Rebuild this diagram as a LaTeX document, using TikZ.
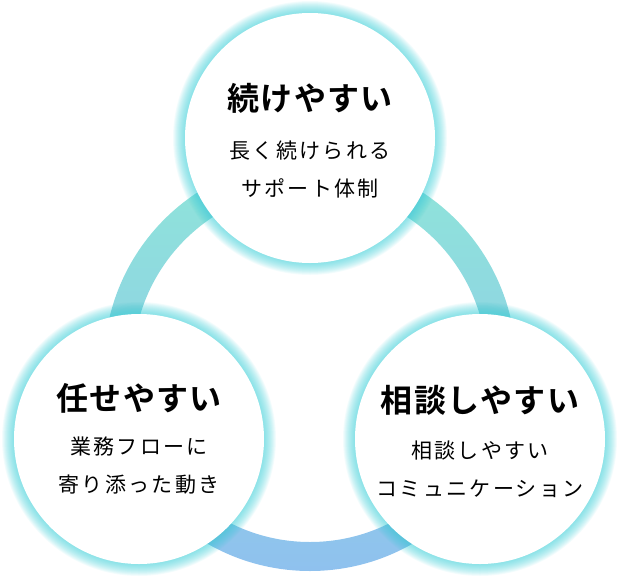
\documentclass[tikz,border=0pt]{standalone}
\usepackage{fontspec}
\setmainfont{Noto Sans CJK JP}
\newfontfamily\titlefont{Noto Sans CJK JP Bold}[LetterSpace=4]
\newfontfamily\subfont{Noto Sans CJK JP}[LetterSpace=11]
\usetikzlibrary{calc}
\definecolor{ringtop}{HTML}{8FE5D9}
\definecolor{ringmid}{HTML}{90DCE6}
\definecolor{ringbot}{HTML}{8FC1EE}
\definecolor{glow}{HTML}{3FCFD8}
\tikzset{
  bubble/.style={circle, fill=white, minimum size=250pt, inner sep=0pt},
  headline/.style={font=\titlefont\fontsize{32}{32}\selectfont},
  subline/.style={font=\subfont\fontsize{21}{38}\selectfont, align=center},
}

\begin{document}
\begin{tikzpicture}[x=1pt,y=-1pt]
  \useasboundingbox (0,0) rectangle (619,579);
  \coordinate (hub) at (310,365);
  % ring behind the circles
  \shade[even odd rule, top color=ringtop, middle color=ringmid, bottom color=ringbot]
    (hub) circle (206pt) (hub) circle (177pt);

  % glow
  \foreach \c in {(310,138),(139,439),(480,439)}
    \foreach \w in {1.5,3,...,24}
      \draw[glow, opacity=.055, line width=\w pt] \c circle (125pt);

  \node[bubble] (tsuzuke) at (310,138) {};
  \node[bubble] (makase) at (139,439) {};
  \node[bubble] (soudan) at (480,439) {};

  \node[headline] (tsuzuke-head) at ($(tsuzuke)+(0,-40)$) {続けやすい};
  \node[subline] (tsuzuke-sub) at ($(tsuzuke)+(0,31)$) {長く続けられる\\サポート体制};

  \node[headline] (makase-head) at ($(makase)+(0,-41)$) {任せやすい};
  \node[subline] (makase-sub) at ($(makase)+(0,27)$) {業務フローに\\寄り添った動き};

  \node[headline] (soudan-head) at ($(soudan)+(0,-39)$) {相談しやすい};
  \node[subline] (soudan-sub) at ($(soudan)+(0,30)$) {相談しやすい\\コミュニケーション};
\end{tikzpicture}
\end{document}
